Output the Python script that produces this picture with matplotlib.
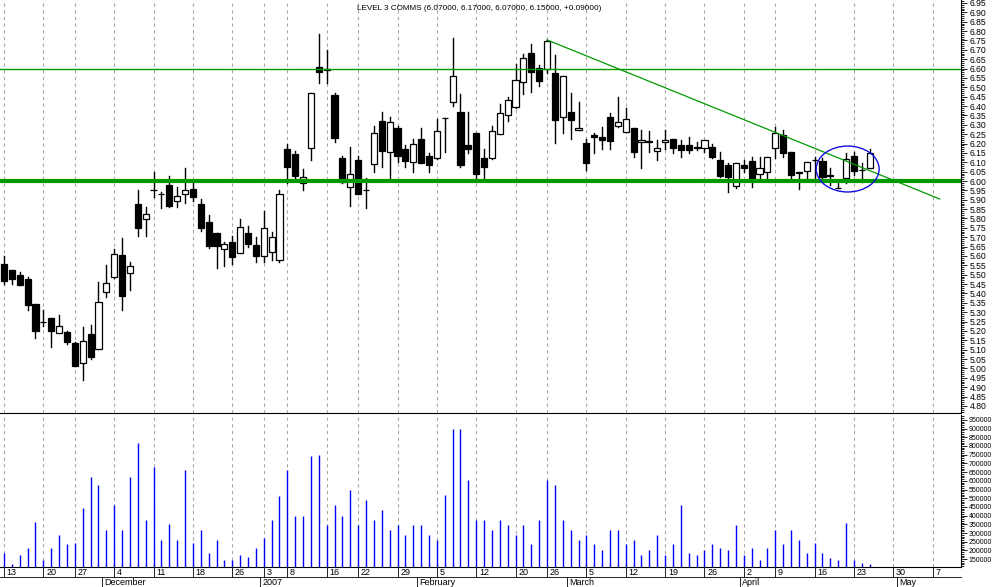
import numpy as np
import matplotlib
matplotlib.use("Agg")
import matplotlib.pyplot as plt
import matplotlib.transforms as mtransforms
from matplotlib.patches import Rectangle, Ellipse

# ---------------- data (trading-day index 0 = 13 Nov 2006) ----------------
opens = [5.557, 5.525, 5.499, 5.477, 5.344, 5.246, 5.269, 5.187, 5.193, 5.136,
         5.027, 5.184, 5.102, 5.406, 5.490, 5.605, 5.508, 5.878, 5.799, 5.950,
         5.929, 5.979, 5.892, 5.929, 5.958, 5.878, 5.782, 5.723, 5.636, 5.675,
         5.614, 5.723, 5.66, 5.60, 5.62, 5.58, 6.171, 6.144, 5.988, 6.174,
         6.607, 6.590, 6.459, 6.121, 5.966, 6.112, 5.954, 6.089, 6.319, 6.157,
         6.281, 6.169, 6.103, 6.223, 6.134, 6.125, 6.334, 6.420, 6.367, 6.190,
         6.256, 6.123, 6.125, 6.253, 6.350, 6.393, 6.527, 6.682, 6.601, 6.596,
         6.578, 6.340, 6.368, 6.272, 6.201, 6.246, 6.233, 6.340, 6.294, 6.263,
         6.281, 6.206, 6.213, 6.160, 6.206, 6.222, 6.192, 6.192, 6.182, 6.174,
         6.182, 6.112, 6.086, 5.975, 6.086, 6.105, 6.036, 6.046, 6.174, 6.246,
         6.153, 6.041, 6.055, 6.112, 6.109, 6.030, 5.965, 6.014, 6.135, 6.060,
         6.07]
highs = [5.600, 5.525, 5.515, 5.486, 5.344, 5.312, 5.269, 5.285, 5.200, 5.143,
         5.223, 5.232, 5.461, 5.552, 5.637, 5.696, 5.566, 5.952, 5.860, 6.050,
         5.942, 6.029, 5.967, 6.070, 5.991, 5.903, 5.817, 5.723, 5.677, 5.707,
         5.798, 5.760, 5.70, 5.84, 5.73, 5.95, 6.198, 6.160, 6.064, 6.468,
         6.785, 6.699, 6.468, 6.134, 6.180, 6.134, 6.014, 6.294, 6.367, 6.340,
         6.294, 6.192, 6.224, 6.281, 6.148, 6.329, 6.338, 6.765, 6.464, 6.367,
         6.256, 6.171, 6.294, 6.411, 6.450, 6.624, 6.678, 6.729, 6.619, 6.753,
         6.672, 6.560, 6.471, 6.420, 6.222, 6.254, 6.290, 6.361, 6.447, 6.388,
         6.281, 6.272, 6.267, 6.219, 6.272, 6.222, 6.219, 6.233, 6.208, 6.217,
         6.199, 6.153, 6.098, 6.098, 6.112, 6.130, 6.130, 6.130, 6.287, 6.272,
         6.153, 6.050, 6.100, 6.130, 6.125, 6.068, 6.005, 6.151, 6.157, 6.098,
         6.17]
lows = [5.451, 5.452, 5.447, 5.314, 5.164, 5.228, 5.116, 5.187, 5.129, 5.011,
        4.938, 5.052, 5.102, 5.383, 5.481, 5.314, 5.419, 5.709, 5.709, 5.913,
        5.858, 5.863, 5.863, 5.885, 5.895, 5.733, 5.641, 5.538, 5.548, 5.557,
        5.614, 5.650, 5.57, 5.57, 5.58, 5.57, 5.991, 6.011, 5.952, 6.114,
        6.525, 6.525, 6.210, 5.990, 5.869, 5.929, 5.854, 6.050, 6.077, 6.011,
        6.100, 6.077, 6.050, 6.098, 6.050, 6.120, 6.157, 6.402, 6.077, 6.151,
        6.018, 6.016, 6.120, 6.249, 6.320, 6.390, 6.464, 6.473, 6.509, 6.575,
        6.201, 6.258, 6.222, 6.272, 6.059, 6.148, 6.169, 6.169, 6.287, 6.260,
        6.130, 6.068, 6.157, 6.112, 6.169, 6.151, 6.130, 6.148, 6.166, 6.153,
        6.121, 6.023, 5.943, 5.961, 6.050, 5.970, 6.005, 6.005, 6.121, 6.130,
        6.005, 5.956, 6.013, 6.014, 6.014, 5.979, 5.961, 5.988, 6.032, 5.993,
        6.07]
closes = [5.468, 5.479, 5.447, 5.340, 5.202, 5.246, 5.202, 5.227, 5.143, 5.015,
          5.145, 5.063, 5.353, 5.458, 5.609, 5.388, 5.548, 5.751, 5.824, 5.950,
          5.929, 5.869, 5.918, 5.950, 5.917, 5.751, 5.655, 5.655, 5.662, 5.597,
          5.753, 5.662, 5.60, 5.75, 5.70, 5.93, 6.077, 6.029, 6.023, 6.468,
          6.584, 6.600, 6.231, 5.997, 6.038, 5.929, 5.954, 6.254, 6.162, 6.313,
          6.135, 6.109, 6.198, 6.098, 6.087, 6.267, 6.334, 6.559, 6.086, 6.173,
          6.038, 6.077, 6.265, 6.361, 6.431, 6.537, 6.655, 6.584, 6.536, 6.747,
          6.324, 6.560, 6.324, 6.281, 6.094, 6.233, 6.217, 6.215, 6.313, 6.329,
          6.157, 6.217, 6.206, 6.174, 6.219, 6.174, 6.164, 6.164, 6.175, 6.217,
          6.126, 6.029, 6.020, 6.098, 6.068, 6.014, 6.068, 6.130, 6.255, 6.148,
          6.032, 6.050, 6.100, 6.112, 6.020, 6.025, 5.965, 6.116, 6.055, 6.060,
          6.15]
volumes = [186, 120, 175, 215, 365, 145, 215, 290, 235, 245,
           445, 620, 575, 320, 460, 320, 620, 820, 375, 680,
           260, 350, 260, 660, 245, 320, 185, 260, 145, 145,
           175, 160, 215, 270, 375, 510, 660, 400, 400, 740,
           750, 345, 460, 400, 545, 345, 490, 375, 430, 320,
           345, 290, 345, 345, 290, 260, 520, 900, 900, 605,
           375, 375, 320, 375, 345, 290, 345, 235, 375, 605,
           575, 375, 320, 260, 290, 235, 205, 320, 320, 235,
           260, 175, 205, 290, 175, 235, 460, 185, 175, 205,
           235, 215, 205, 345, 175, 215, 145, 215, 320, 235,
           320, 260, 185, 245, 185, 155, 145, 355, 145, 130,
           120]
volumes = [v * 1000 for v in volumes]

week_idx = [0, 5, 9, 14, 19, 24, 29, 33, 36, 41, 45, 50, 55, 60, 65, 69, 74,
            79, 84, 89, 94, 98, 103, 108, 113, 118]
week_labels = ["13", "20", "27", "4", "11", "18", "26", "3", "8", "16", "22",
               "29", "5", "12", "20", "26", "5", "12", "19", "26", "2", "9",
               "16", "23", "30", "7"]
month_idx = [13, 33, 53, 72, 94, 114]
month_labels = ["December", "2007", "February", "March", "April", "May"]

res_hi, res_lo = 6.60, 6.00
trend_x, trend_y = [69, 118.9], [6.753, 5.904]

GREEN = "#009a00"
GRID = "#a8a8a8"
FONT = "Liberation Sans"

W, H = 994, 587
fig = plt.figure(figsize=(W / 100, H / 100), dpi=100)
right = 961 / W
ax = fig.add_axes([0, 1 - 413 / H, right, 413 / H])
axv = fig.add_axes([0, 1 - 567 / H, right, 152 / H])

xlim = (-0.51, 121.6)
for a in (ax, axv):
    a.set_xlim(*xlim)
    for s in ("top", "left"):
        a.spines[s].set_visible(False)
    a.spines["right"].set_linewidth(0.8)
    a.spines["bottom"].set_linewidth(0.8)
    a.vlines(week_idx, 0, 1, transform=a.get_xaxis_transform(), color=GRID,
             linewidth=0.8, linestyles=(0, (3, 3)), zorder=0)
    a.set_xticks([])
    a.yaxis.tick_right()
    a.tick_params(axis="y", which="both", direction="out", pad=2.5, width=0.6)
    a.tick_params(axis="y", which="major", length=4)
    a.tick_params(axis="y", which="minor", length=2)

# ---------------- price panel ----------------
ax.set_ylim(4.762, 6.966)
bw = 0.78
for i, (o, h, l, c) in enumerate(zip(opens, highs, lows, closes)):
    ax.plot([i, i], [l, h], color="black", linewidth=1.0, zorder=2)
    lo, hi = min(o, c), max(o, c)
    face = "black" if c < o else "white"
    ax.add_patch(Rectangle((i - bw / 2, lo), bw, hi - lo, facecolor=face,
                           edgecolor="black", linewidth=0.9, zorder=3))

ax.axhline(res_hi, color=GREEN, linewidth=1.0, zorder=4)
ax.axhline(res_lo, color=GREEN, linewidth=3.0, zorder=4)
ax.plot(trend_x, trend_y, color=GREEN, linewidth=0.9, zorder=4)
ax.add_patch(Ellipse((107.2, 6.064), 8.0, 0.245, fill=False,
                     edgecolor="#1010e0", linewidth=1.0, zorder=5))

ax.set_yticks(np.arange(4.80, 6.951, 0.05))
ax.set_yticks(np.arange(4.77, 6.961, 0.01), minor=True)
ax.yaxis.set_major_formatter(matplotlib.ticker.FormatStrFormatter("%.2f"))
for t in ax.get_yticklabels():
    t.set_family(FONT)
    t.set_fontsize(6.2)

fig.text(0.482, 0.992, "LEVEL 3 COMMS (6.07000, 6.17000, 6.07000, 6.15000, +0.09000)",
         ha="center", va="top", fontsize=5.9, family=FONT)

# ---------------- volume panel ----------------
axv.set_ylim(105000, 978000)
axv.vlines(range(len(volumes)), 0, volumes, color="#0000ff", linewidth=1.0,
           zorder=2)
axv.set_yticks(np.arange(150000, 950001, 50000))
axv.set_yticks(np.arange(110000, 970001, 10000), minor=True)
axv.yaxis.set_major_formatter(matplotlib.ticker.FormatStrFormatter("%d"))
axv.tick_params(axis="y", pad=1.5)
for t in axv.get_yticklabels():
    t.set_family(FONT)
    t.set_fontsize(5.0)

# ---------------- date labels ----------------
tr = mtransforms.blended_transform_factory(axv.transData, axv.transAxes)
row1 = 10 / 152
row2 = 20 / 152
axv.plot([xlim[0], xlim[1]], [-row1, -row1], transform=tr, color="black",
         linewidth=0.6, clip_on=False)
for i, lab in zip(week_idx, week_labels):
    axv.plot([i, i], [0, -row1], transform=tr, color="black", linewidth=0.6,
             clip_on=False)
    axv.text(i + 0.35, -0.004, lab, transform=tr, ha="left", va="top",
             fontsize=6.5, family=FONT)
for i, lab in zip(month_idx, month_labels):
    xm = i - 0.5
    axv.plot([xm, xm], [-row1, -row2], transform=tr, color="black",
             linewidth=0.6, clip_on=False)
    axv.text(xm + 0.3, -row1 - 0.004, lab, transform=tr, ha="left", va="top",
             fontsize=6.5, family=FONT)

fig.savefig("out.png", dpi=100)
